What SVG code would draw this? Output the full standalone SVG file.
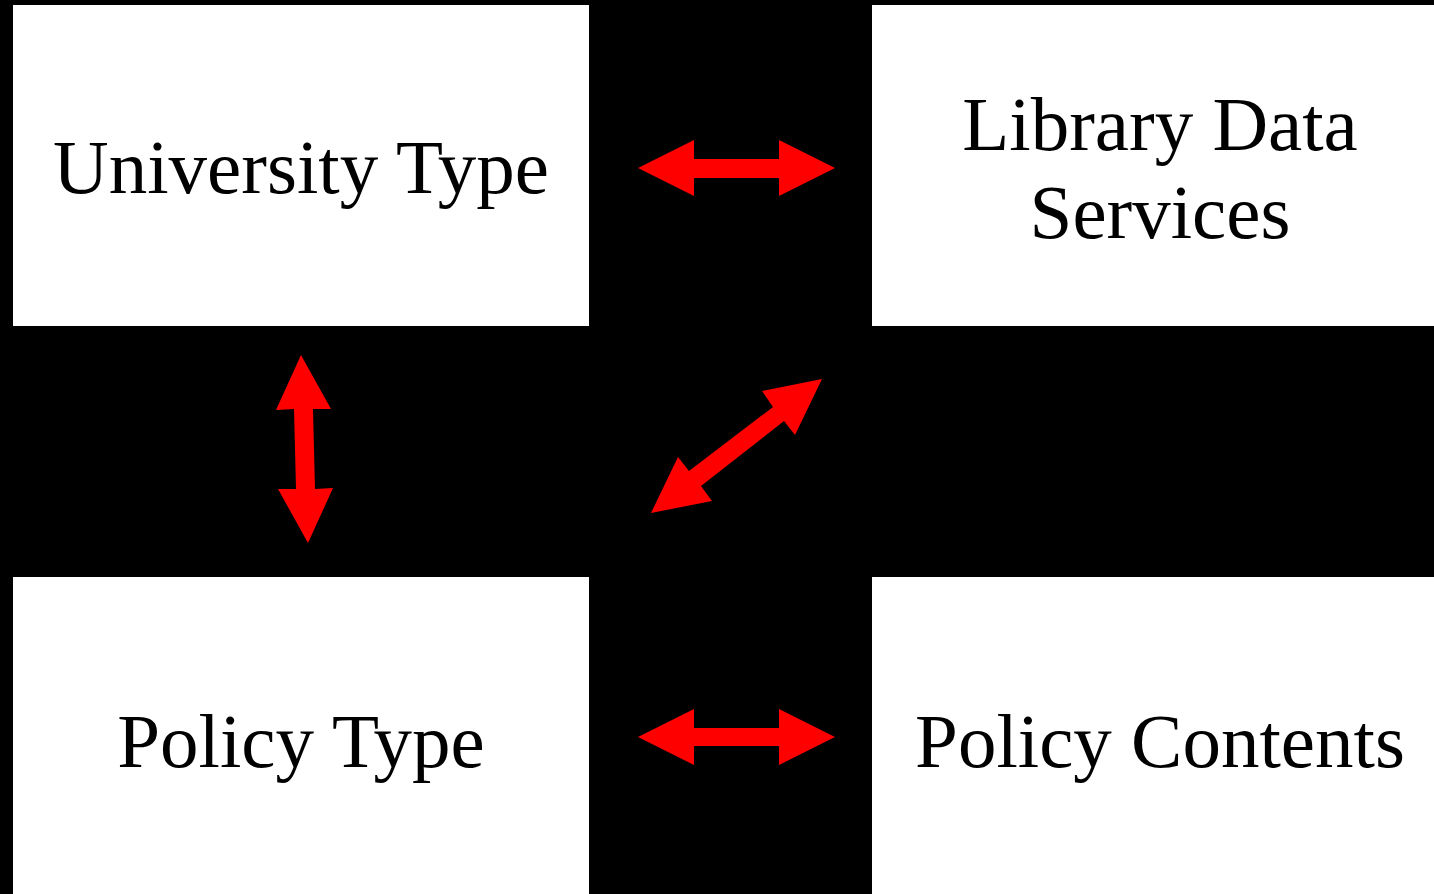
<svg xmlns="http://www.w3.org/2000/svg" width="1434" height="894" viewBox="0 0 1434 894">
<style>
.box{fill:#fff}
.lbl{font-family:"Liberation Serif","Times New Roman",serif;font-size:77px;fill:#000;text-anchor:middle}
.arr{fill:#f00}
</style>
<rect width="1434" height="894" fill="#000"/>
<g id="university-type"><rect class="box" x="13" y="5" width="576" height="321"/><text class="lbl" x="301" y="193">University Type</text></g>
<g id="library-data-services"><rect class="box" x="872" y="5" width="562" height="321"/><text class="lbl" x="1160" y="150">Library Data</text><text class="lbl" x="1160" y="238">Services</text></g>
<g id="policy-type"><rect class="box" x="13" y="577" width="576" height="317"/><text class="lbl" x="301" y="767">Policy Type</text></g>
<g id="policy-contents"><rect class="box" x="872" y="577" width="562" height="317"/><text class="lbl" x="1160" y="767">Policy Contents</text></g>
<g id="connectors">
<polygon class="arr" points="638,168 694,140 694,159 779,159 779,140 835,168 779,196 779,178 694,178 694,196"/>
<polygon class="arr" points="638,737 694,709 694,728 779,728 779,709 835,737 779,765 779,746 694,746 694,765"/>
<polygon class="arr" points="301,355 331,409 313,409 315,489 333,488 308,543 278,489 296,489 294,409 276,410"/>
<polygon class="arr" points="822,379 795,435 784,421 701,486 712,501 651,513 678,457 689,471 773,407 762,391"/>
</g>
</svg>
